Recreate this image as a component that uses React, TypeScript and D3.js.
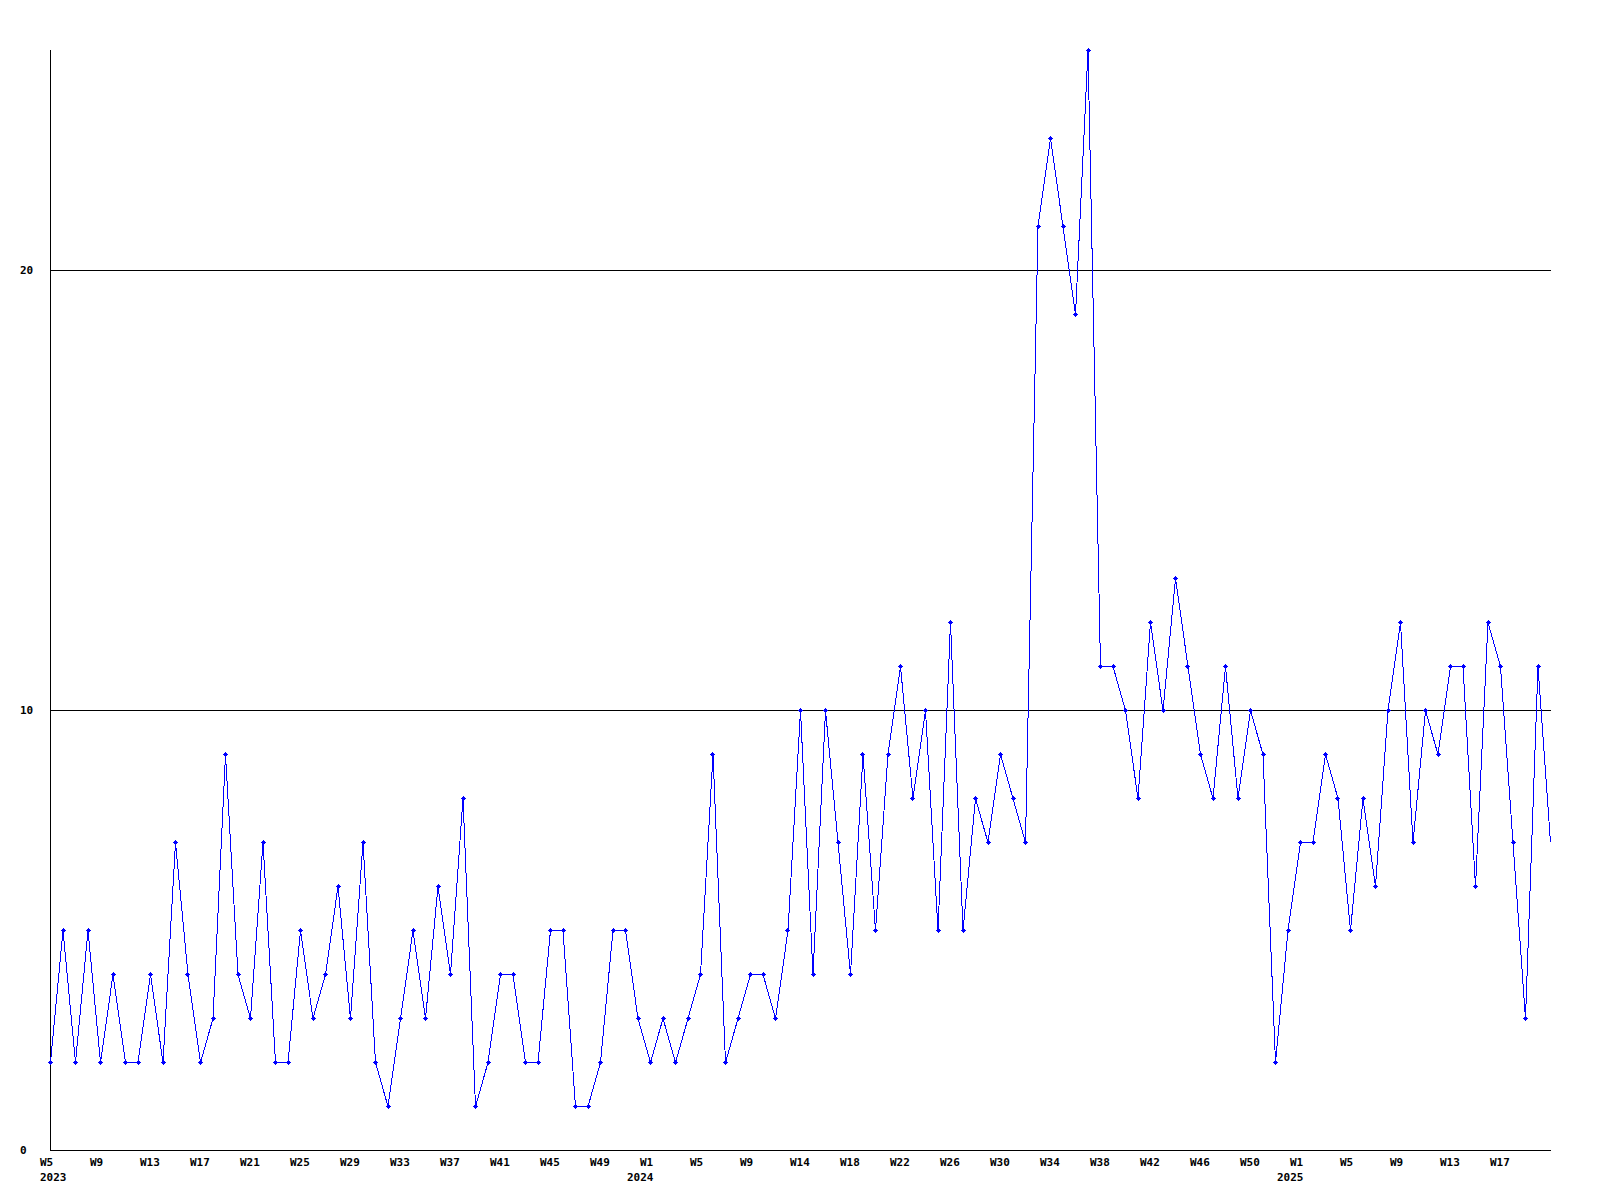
import React from "react";
import * as d3 from "d3";

const values: number[] = [
  2, 5, 2, 5, 2, 4, 2, 2, 4, 2, 7, 4, 2, 3, 9, 4, 3, 7, 2, 2,
  5, 3, 4, 6, 3, 7, 2, 1, 3, 5, 3, 6, 4, 8, 1, 2, 4, 4, 2, 2,
  5, 5, 1, 1, 2, 5, 5, 3, 2, 3, 2, 3, 4, 9, 2, 3, 4, 4, 3, 5,
  10, 4, 10, 7, 4, 9, 5, 9, 11, 8, 10, 5, 12, 5, 8, 7, 9, 8, 7, 21,
  23, 21, 19, 25, 11, 11, 10, 8, 12, 10, 13, 11, 9, 8, 11, 8, 10, 9, 2, 5,
  7, 7, 9, 8, 5, 8, 6, 10, 12, 7, 10, 9, 11, 11, 6, 12, 11, 7, 3, 11,
  7,
];

const weekTickIndex: number[] = [
  0, 4, 8, 12, 16, 20, 24, 28, 32, 36, 40, 44, 48, 52, 56, 60, 64, 68, 72, 76,
  80, 84, 88, 92, 96, 100, 104, 108, 112, 116,
];
const weekTickLabels: string[] = [
  "W5", "W9", "W13", "W17", "W21", "W25", "W29", "W33", "W37", "W41", "W45", "W49",
  "W1", "W5", "W9", "W14", "W18", "W22", "W26", "W30", "W34", "W38", "W42", "W46", "W50",
  "W1", "W5", "W9", "W13", "W17",
];
const yearIndex: number[] = [0, 48, 100];
const yearLabels: string[] = ["2023", "2024", "2025"];
const yTicks: number[] = [0, 10, 20];
const gridValues: number[] = [10, 20];

const FONT = "'DejaVu Sans Mono', monospace";

export default function App() {
  const left = 50;
  const right = 1550;
  const top = 50;
  const bottom = 1150;
  const x = d3.scaleLinear().domain([0, values.length - 1]).range([left, right]);
  const y = d3.scaleLinear().domain([0, 25]).range([bottom, top]);

  const line = d3
    .line<number>()
    .x((_, i) => x(i) + 0.5)
    .y((d) => y(d) + 0.5);

  return (
    <svg
      width={1600}
      height={1200}
      style={{ position: "absolute", left: 0, top: 0, background: "#fff" }}
    >
      <rect x={0} y={0} width={1600} height={1200} fill="#fff" />
      {/* gridlines */}
      {gridValues.map((v) => (
        <line
          key={"g" + v}
          x1={left}
          x2={right + 1}
          y1={y(v) + 0.5}
          y2={y(v) + 0.5}
          stroke="#000"
          strokeWidth={1}
          shapeRendering="crispEdges"
        />
      ))}
      {/* axes */}
      <line x1={left + 0.5} x2={left + 0.5} y1={top} y2={bottom + 1} stroke="#000" shapeRendering="crispEdges" />
      <line x1={left} x2={right + 1} y1={bottom + 0.5} y2={bottom + 0.5} stroke="#000" shapeRendering="crispEdges" />

      {/* y labels */}
      {yTicks.map((v) => (
        <text
          key={"y" + v}
          x={20}
          y={y(v) + 4}
          fontFamily={FONT}
          fontWeight="bold"
          fontSize={11}
          fill="#000"
        >
          {v}
        </text>
      ))}

      {/* x labels */}
      {weekTickIndex.map((idx, k) => (
        <text
          key={"w" + k}
          x={x(idx) - 10}
          y={1166}
          fontFamily={FONT}
          fontWeight="bold"
          fontSize={11}
          fill="#000"
        >
          {weekTickLabels[k]}
        </text>
      ))}
      {yearIndex.map((idx, k) => (
        <text
          key={"yr" + k}
          x={Math.max(40, x(idx) - 23)}
          y={1181}
          fontFamily={FONT}
          fontWeight="bold"
          fontSize={11}
          fill="#000"
        >
          {yearLabels[k]}
        </text>
      ))}

      {/* series */}
      <path d={line(values) || ""} fill="none" stroke="#0000ff" strokeWidth={1} shapeRendering="crispEdges" />
      {values.slice(0, values.length - 1).map((v, i) => {
        const cx = Math.round(x(i));
        const cy = Math.round(y(v));
        return (
          <g key={"m" + i} fill="#0000ff" shapeRendering="crispEdges">
            <rect x={cx - 1} y={cy - 1} width={3} height={3} />
            <rect x={cx - 2} y={cy} width={5} height={1} />
            <rect x={cx} y={cy - 2} width={1} height={5} />
          </g>
        );
      })}
    </svg>
  );
}
